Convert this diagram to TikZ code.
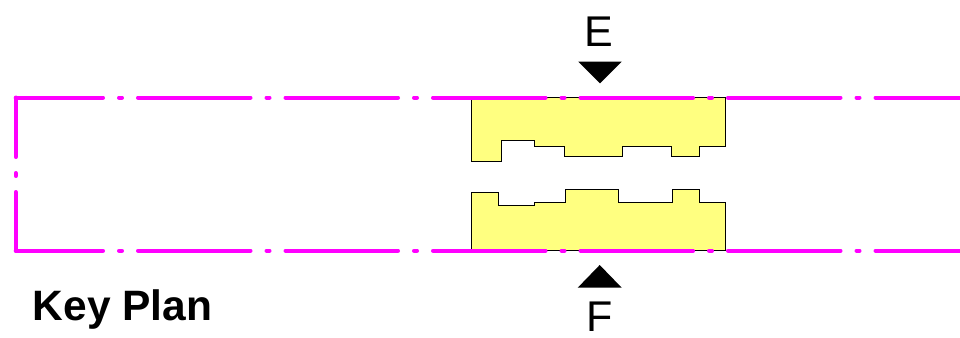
\documentclass[tikz,border=0pt]{standalone}
\usepackage{fontspec}
\setmainfont{Liberation Sans}
\definecolor{keymagenta}{RGB}{255,0,255}
\definecolor{keyyellow}{RGB}{255,255,128}
\tikzset{
    gridline/.style={draw=keymagenta,line width=4pt,line cap=round,dash pattern=on 112.5pt off 16pt on 3pt off 16pt},
    block/.style={draw=black,fill=keyyellow,line width=1pt},
    marker/.style={fill=black},
    keytext/.style={inner sep=0pt,anchor=base,font=\fontsize{43}{43}\selectfont}
}

\begin{document}
\begin{tikzpicture}[x=1pt,y=-1pt]
        \useasboundingbox (0,0) rectangle (960,337);

        % corners of the grid lines
        \coordinate (TL) at (15.7,97.5);
        \coordinate (TR) at (960,97.5);
        \coordinate (BL) at (15.7,250.7);
        \coordinate (BR) at (960,250.7);

        % upper block
        \draw [block] (471.7,97.5) -- (471.7,161) -- (501.3,161) -- (501.3,140.3) -- (534.3,140.3)
            -- (534.3,146) -- (564.7,146) -- (564.7,156.7) -- (622.7,156.7) -- (622.7,146.7)
            -- (671.7,146.7) -- (671.7,156.7) -- (699.3,156.7) -- (699.3,146.7) -- (725,146.7)
            -- (725,97.5) -- cycle;

        % lower block
        \draw [block] (471.7,250.7) -- (471.7,192.3) -- (498.3,192.3) -- (498.3,205) -- (534,205)
            -- (534,202.3) -- (565,202.3) -- (565,189.7) -- (618.7,189.7) -- (618.7,202)
            -- (672,202) -- (672,189.7) -- (699.3,189.7) -- (699.3,202.3) -- (725,202.3)
            -- (725,250.7) -- cycle;

        % grid lines
        \draw [gridline,dash phase=25.2pt] (TL) -- (TR);
        \draw [gridline,dash phase=25.2pt] (BL) -- (BR);
        \draw [gridline,dash phase=53pt] (TL) -- (BL);

        % section markers
        \fill [marker] (578.3,61.7) -- (621.7,61.7) -- (600,83.3) -- cycle;
        \fill [marker] (577.7,287.7) -- (621.7,287.7) -- (599.7,265) -- cycle;

        % labels
        \node [keytext] (E) at (598.5,46.7) {E};
        \node [keytext] (F) at (600,331.7) {F};
        \node [keytext,anchor=base west,font=\fontsize{42.5}{43}\selectfont\bfseries] (key) at (32.5,320) {Key Plan};
\end{tikzpicture}
\end{document}
